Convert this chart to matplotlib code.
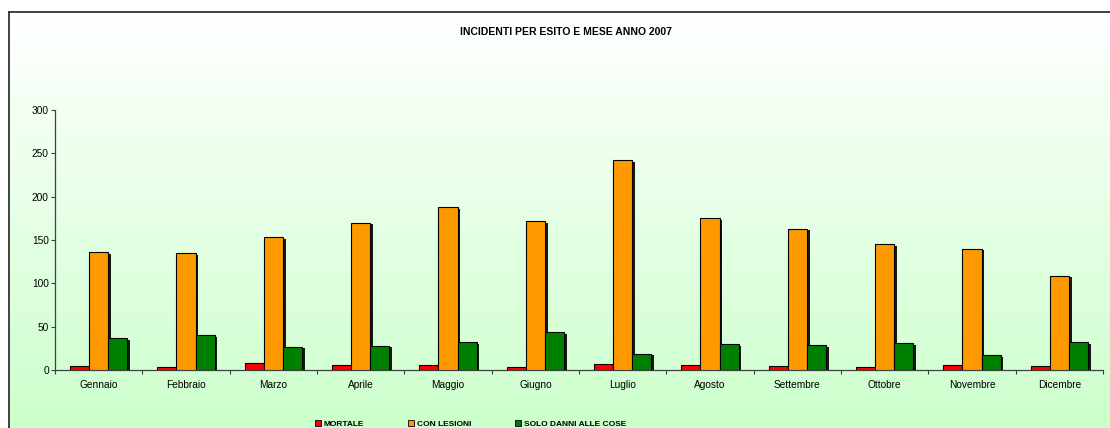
import numpy as np
import matplotlib
matplotlib.use("Agg")
import matplotlib.pyplot as plt
import matplotlib.patheffects as pe
from matplotlib.patches import Patch
from matplotlib.colors import LinearSegmentedColormap

plt.rcParams['font.family'] = ['Liberation Sans', 'DejaVu Sans']

mesi = ['Gennaio', 'Febbraio', 'Marzo', 'Aprile', 'Maggio', 'Giugno',
        'Luglio', 'Agosto', 'Settembre', 'Ottobre', 'Novembre', 'Dicembre']
mortale = [5, 4, 8, 6, 6, 4, 7, 6, 5, 3, 6, 5]
con_lesioni = [136, 135, 153, 170, 188, 172, 242, 175, 163, 145, 140, 109]
solo_danni = [37, 40, 27, 28, 32, 44, 19, 30, 29, 31, 17, 32]

serie = [('MORTALE', mortale, '#ff0000'),
         ('CON LESIONI', con_lesioni, '#ff9900'),
         ('SOLO DANNI ALLE COSE', solo_danni, '#008000')]

W, H = 1110, 428
fig = plt.figure(figsize=(W / 100, H / 100), dpi=100)

# sfondo sfumato bianco -> verde chiaro dentro la cornice
bg = fig.add_axes([9 / W, 0, 1 - 9 / W, 1 - 12 / H])
cmap = LinearSegmentedColormap.from_list('sfondo', ['#ffffff', '#ccffcc'])
grad = np.linspace(0, 1, 256).reshape(-1, 1)
bg.imshow(grad, aspect='auto', cmap=cmap, extent=[0, 1, 0, 1], origin='upper')
bg.set_xticks([])
bg.set_yticks([])
for s in ['right', 'bottom']:
    bg.spines[s].set_visible(False)
for s in ['top', 'left']:
    bg.spines[s].set_color('#333333')
    bg.spines[s].set_linewidth(1.3)

ax = fig.add_axes([55 / W, 1 - 370 / H, (1103 - 55) / W, 260 / H])
ax.set_facecolor('none')

x = np.arange(len(mesi))
w = 0.218
ombra = [pe.SimplePatchShadow(offset=(2.0, -1.2), shadow_rgbFace='black', alpha=0.9),
         pe.Normal()]
handles = []
for i, (nome, valori, colore) in enumerate(serie):
    bars = ax.bar(x + (i - 1) * w, valori, w, color=colore, edgecolor='black',
                  linewidth=0.8, zorder=3)
    for b in bars:
        b.set_path_effects(ombra)
    handles.append(Patch(facecolor=colore, edgecolor='black', linewidth=0.6, label=nome))

ax.set_xlim(-0.5, len(mesi) - 0.5)
ax.set_ylim(0, 300)
ax.set_yticks(range(0, 301, 50))
ax.set_xticks(np.arange(-0.5, len(mesi)), labels=[])
ax.set_xticks(x, labels=mesi, minor=True)
ax.tick_params(axis='x', which='major', direction='out', length=3, width=0.8, color='#404040')
ax.tick_params(axis='x', which='minor', length=0, pad=7, labelsize=7.3)
ax.tick_params(axis='y', direction='out', length=3, width=0.8, color='#404040',
               pad=1.5, labelsize=7.3)
for s in ['top', 'right']:
    ax.spines[s].set_visible(False)
for s in ['left', 'bottom']:
    ax.spines[s].set_color('#404040')
    ax.spines[s].set_linewidth(0.9)

fig.text(566 / W, 1 - 32 / H, 'INCIDENTI PER ESITO E MESE ANNO 2007',
         ha='center', va='center', fontsize=7.5, fontweight='bold')

fig.legend(handles=handles, loc='center', bbox_to_anchor=(0.424, 1 - 424 / H),
           ncol=3, frameon=False, prop={'size': 6, 'weight': 'bold'},
           handlelength=0.7, handleheight=0.7, handletextpad=0.3,
           columnspacing=5.3, borderpad=0)

fig.savefig('out.png', dpi=100)
